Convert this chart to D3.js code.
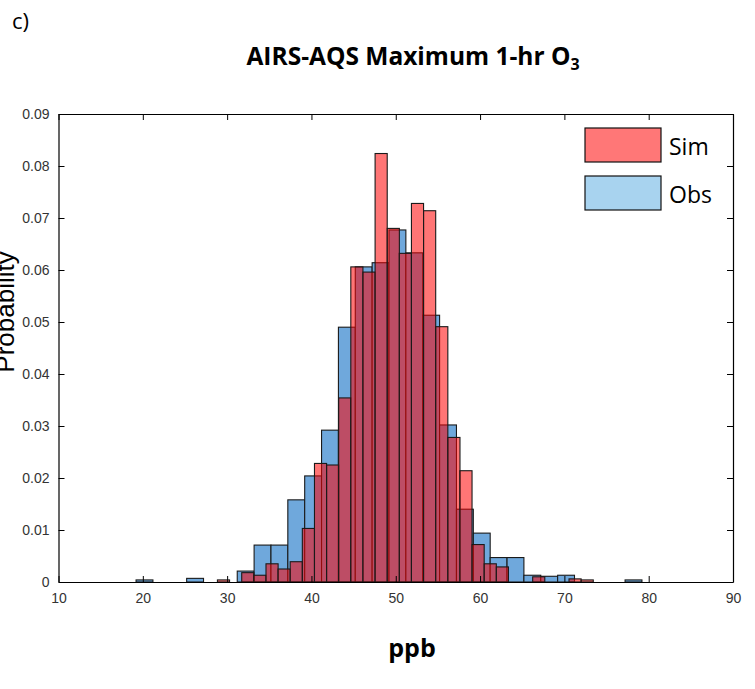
<!DOCTYPE html>
<html>
<head>
<meta charset="utf-8">
<script src="https://cdn.jsdelivr.net/npm/d3@7"></script>
<style>
  body { margin: 0; background: #fff; }
</style>
</head>
<body>
<div id="chart"></div>
<script>
// tick values
var xTicks = [10, 20, 30, 40, 50, 60, 70, 80, 90];
var yTicks = [0, 0.01, 0.02, 0.03, 0.04, 0.05, 0.06, 0.07, 0.08, 0.09];

// Obs histogram (bin left edge in ppb, bin width 2)
var obsLeft = [19.2, 25.2, 31.2, 33.2, 35.2, 37.2, 39.2, 41.2, 43.2, 45.2, 47.2, 49.2,
               51.2, 53.2, 55.2, 57.2, 59.2, 61.2, 63.2, 65.2, 67.2, 69.2, 77.2];
var obsProb = [0.0004, 0.0007, 0.0021, 0.0071, 0.0071, 0.0158, 0.0204, 0.0292, 0.049, 0.0606, 0.0614, 0.0677,
               0.0633, 0.0513, 0.0302, 0.014, 0.0094, 0.0047, 0.0047, 0.0013, 0.0011, 0.0013, 0.0004];
var obsWidth = 2;

// Sim histogram (bin left edge in ppb, bin width ~1.44)
var simLeft = [28.85, 31.73, 33.17, 34.61, 36.04, 37.48, 38.92, 40.36, 41.80, 43.23, 44.67, 46.11,
               47.55, 48.99, 50.42, 51.86, 53.30, 54.74, 56.18, 57.61, 59.05, 60.49, 61.93,
               66.24, 70.55, 71.99];
var simProb = [0.0004, 0.0018, 0.0013, 0.0035, 0.0025, 0.0039, 0.0103, 0.0228, 0.0225, 0.0354, 0.0606, 0.0596,
               0.0824, 0.068, 0.0632, 0.0728, 0.0714, 0.0491, 0.0278, 0.0214, 0.0072, 0.0035, 0.0029,
               0.001, 0.0006, 0.0004];
var simWidth = 1.438;

var W = 755, H = 689;
var plotL = 58.5, plotR = 733, plotT = 114, plotB = 582;

var svg = d3.select("#chart").append("svg")
    .attr("width", W)
    .attr("height", H);

var x = d3.scaleLinear().domain([10, 90]).range([plotL, plotR]);
var y = d3.scaleLinear().domain([0, 0.09]).range([plotB, plotT]);

// obs bars underneath
svg.append("g").selectAll("rect")
    .data(obsLeft.map(function (d, i) { return [d, obsProb[i]]; }))
    .enter()
    .append("rect")
    .attr("x", function (d) { return x(d[0]); })
    .attr("y", function (d) { return y(d[1]); })
    .attr("width", function (d) { return x(d[0] + obsWidth) - x(d[0]); })
    .attr("height", function (d) { return plotB - y(d[1]); })
    .attr("fill", "#6fa8dc")
    .attr("stroke", "#1a1a1a")
    .attr("stroke-width", 1.1);

// sim bars on top, semi transparent
svg.append("g").selectAll("rect")
    .data(simLeft.map(function (d, i) { return [d, simProb[i]]; }))
    .enter()
    .append("rect")
    .attr("x", function (d) { return x(d[0]); })
    .attr("y", function (d) { return y(d[1]); })
    .attr("width", function (d) { return x(d[0] + simWidth) - x(d[0]); })
    .attr("height", function (d) { return plotB - y(d[1]); })
    .attr("fill", "#ff0000")
    .attr("fill-opacity", 0.54)
    .attr("stroke", "#1a1a1a")
    .attr("stroke-width", 1.1);

// axes, MATLAB style box with inward ticks
var tickFont = "'Liberation Sans', Arial, sans-serif";
var xAxis = d3.axisBottom(x).tickValues(xTicks).tickSizeInner(-6).tickSizeOuter(0).tickPadding(11);
var yAxis = d3.axisLeft(y).tickValues(yTicks).tickSizeInner(-6).tickSizeOuter(0).tickPadding(9)
    .tickFormat(function (d) { return d === 0 ? "0" : d3.format(".2f")(d); });

var gx = svg.append("g").attr("transform", "translate(0," + plotB + ")").call(xAxis);
var gy = svg.append("g").attr("transform", "translate(" + plotL + ",0)").call(yAxis);
var gxt = svg.append("g").attr("transform", "translate(0," + plotT + ")")
    .call(d3.axisTop(x).tickValues(xTicks).tickSizeInner(-6).tickSizeOuter(0).tickFormat(""));
var gyr = svg.append("g").attr("transform", "translate(" + plotR + ",0)")
    .call(d3.axisRight(y).tickValues(yTicks).tickSizeInner(-6).tickSizeOuter(0).tickFormat(""));

[gx, gy, gxt, gyr].forEach(function (g) {
    g.select(".domain").attr("stroke", "#000").attr("stroke-width", 1.2);
    g.selectAll(".tick line").attr("stroke", "#000");
    g.selectAll("text").attr("font-family", tickFont).attr("font-size", "14px").attr("fill", "#333");
});

// titles
svg.append("text")
    .attr("x", 12).attr("y", 29)
    .attr("font-family", "'Open Sans', sans-serif")
    .attr("font-size", "22px")
    .text("c)");

var title = svg.append("text")
    .attr("x", 413).attr("y", 65)
    .attr("text-anchor", "middle")
    .attr("font-family", "'Open Sans', sans-serif")
    .attr("font-size", "24.5px")
    .attr("font-weight", "bold");
title.append("tspan").text("AIRS-AQS Maximum 1-hr O");
title.append("tspan").attr("font-size", "16px").attr("dy", 5).text("3");

svg.append("text")
    .attr("x", 412).attr("y", 657)
    .attr("text-anchor", "middle")
    .attr("font-family", "'Open Sans', sans-serif")
    .attr("font-size", "25px")
    .attr("font-weight", "bold")
    .text("ppb");

svg.append("text")
    .attr("transform", "translate(14," + 312 + ") rotate(-90)")
    .attr("text-anchor", "middle")
    .attr("font-family", "'Liberation Sans', Arial, sans-serif")
    .attr("font-size", "26px")
    .text("Probability");

// legend
var legend = [["Sim", "#ff7777"], ["Obs", "#a8d3ef"]];
legend.forEach(function (d, i) {
    svg.append("rect")
        .attr("x", 585).attr("y", 128 + i * 48)
        .attr("width", 76).attr("height", 34)
        .attr("fill", d[1])
        .attr("stroke", "#111")
        .attr("stroke-width", 1.2);
    svg.append("text")
        .attr("x", 669).attr("y", 155 + i * 48)
        .attr("font-family", "'Open Sans', sans-serif")
        .attr("font-size", "23px")
        .text(d[0]);
});
</script>
</body>
</html>
